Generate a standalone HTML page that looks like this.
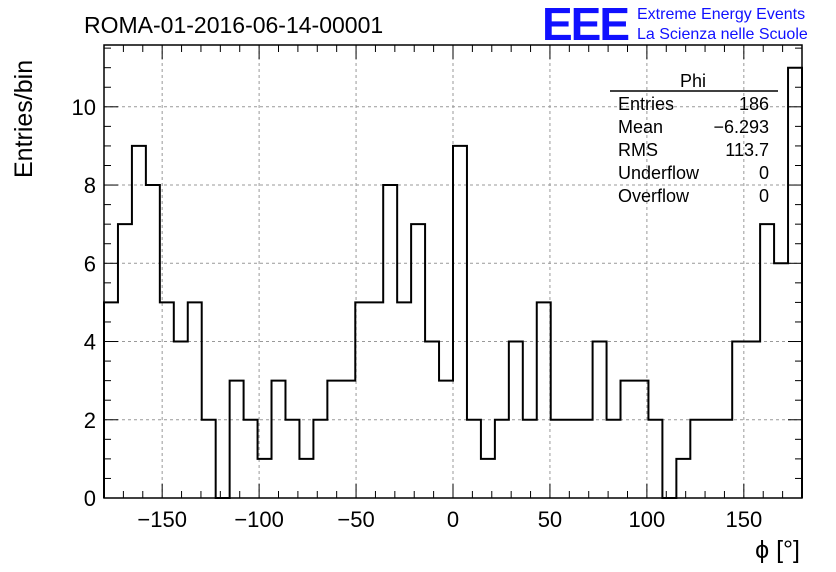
<!DOCTYPE html>
<html><head><meta charset="utf-8"><style>
body{margin:0;background:#fff}
svg{display:block;font-family:"Liberation Sans",sans-serif}
</style></head><body>
<svg id="c" width="836" height="572">
<rect width="836" height="572" fill="#fff"/>
<g id="grid"></g>
<g id="ticks"></g>
<path id="hist" fill="none" stroke="#000" stroke-width="2"/>
<rect x="104" y="45" width="698" height="453" fill="none" stroke="#000" stroke-width="1.5"/>
<g id="labels" font-size="22"></g>
<text x="84" y="33" font-size="23">ROMA-01-2016-06-14-00001</text>
<text x="542" y="40" font-size="46" fill="#1010ff" font-weight="bold" letter-spacing="-2">EEE</text>
<text x="637" y="19" font-size="16" fill="#1010ff">Extreme Energy Events</text>
<text x="637" y="39" font-size="16" fill="#1010ff">La Scienza nelle Scuole</text>
<text transform="translate(32,178) rotate(-90)" font-size="25">Entries/bin</text>
<text x="800" y="558" font-size="25" text-anchor="end">ϕ [°]</text>
<g font-size="18">
<text x="693" y="87" text-anchor="middle">Phi</text>
<line x1="610" y1="91" x2="778" y2="91" stroke="#000" stroke-width="1.5"/>
<text x="618" y="110">Entries</text><text x="769" y="110" text-anchor="end">186</text>
<text x="618" y="133">Mean</text><text x="769" y="133" text-anchor="end">−6.293</text>
<text x="618" y="156">RMS</text><text x="769" y="156" text-anchor="end">113.7</text>
<text x="618" y="179">Underflow</text><text x="769" y="179" text-anchor="end">0</text>
<text x="618" y="202">Overflow</text><text x="769" y="202" text-anchor="end">0</text>
</g>
</svg>
<script>
const counts=[5,7,9,8,5,4,5,2,0,3,2,1,3,2,1,2,3,3,5,5,8,5,7,4,3,9,2,1,2,4,2,5,2,2,2,4,2,3,3,2,0,1,2,2,2,4,4,7,6,11];
const xTicks=[-150,-100,-50,0,50,100,150];
const yTicks=[0,2,4,6,8,10];
const xMin=-180,xMax=180,yMax=11.58;
const L=104,R=802,T=45,B=498;
const X=v=>L+(v-xMin)/(xMax-xMin)*(R-L);
const Y=v=>B-v/yMax*(B-T);
const ns="http://www.w3.org/2000/svg";
function mk(t,a,p){const e=document.createElementNS(ns,t);for(const k in a)e.setAttribute(k,a[k]);p.appendChild(e);return e;}
const bw=(xMax-xMin)/counts.length;
let d="M"+X(xMin)+","+Y(0);
counts.forEach((c,i)=>{d+=" L"+X(xMin+i*bw)+","+Y(c)+" L"+X(xMin+(i+1)*bw)+","+Y(c);});
d+=" L"+X(xMax)+","+Y(0);
document.getElementById('hist').setAttribute('d',d);
const g=document.getElementById('grid'),tk=document.getElementById('ticks'),lb=document.getElementById('labels');
xTicks.forEach(v=>{
 const l=mk('line',{x1:X(v),x2:X(v),y1:T,y2:B,stroke:'#999','stroke-dasharray':'3,3'},g);
 
 const t=mk('text',{x:X(v),y:527,'text-anchor':'middle'},lb);
 
 t.textContent=v<0?'−'+(-v):v;
});
yTicks.forEach(v=>{
 if(v>0){const l=mk('line',{x1:L,x2:R,y1:Y(v),y2:Y(v),stroke:'#999','stroke-dasharray':'3,3'},g);
 }
 const t=mk('text',{x:96,y:Y(v)+8,'text-anchor':'end'},lb);
 
 t.textContent=v;
});
for(let v=-180;v<=180;v+=10){const big=v%50===0,h=big?14:7;
 mk('line',{x1:X(v),x2:X(v),y1:B,y2:B-h,stroke:'#000'},tk);
 mk('line',{x1:X(v),x2:X(v),y1:T,y2:T+h,stroke:'#000'},tk);}
for(let v=0;v<=11.5;v+=0.5){const big=v%2===0,h=big?14:7;
 mk('line',{x1:L,x2:L+h,y1:Y(v),y2:Y(v),stroke:'#000'},tk);
 mk('line',{x1:R,x2:R-h,y1:Y(v),y2:Y(v),stroke:'#000'},tk);}
</script>
</body></html>
